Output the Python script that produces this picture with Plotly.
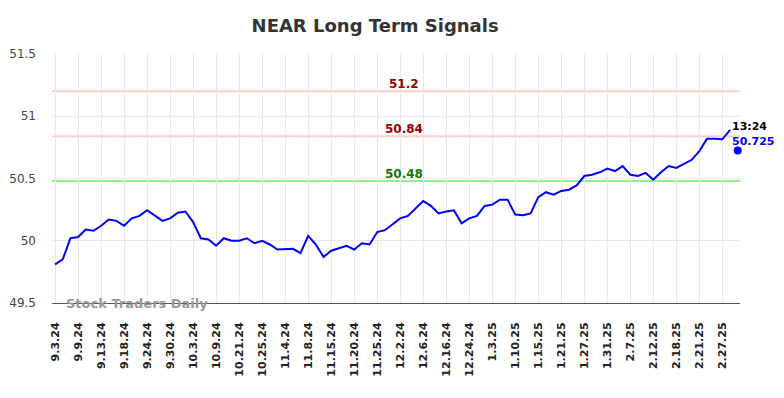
import plotly.graph_objects as go

title = "NEAR Long Term Signals"
values = [49.81, 49.85, 50.02, 50.03, 50.09, 50.08, 50.12, 50.17, 50.16, 50.12,
          50.18, 50.20, 50.245, 50.20, 50.16, 50.18, 50.225, 50.235, 50.15, 50.02,
          50.01, 49.96, 50.02, 50.00, 50.00, 50.02, 49.98, 50.00, 49.97, 49.93,
          49.93, 49.935, 49.90, 50.04, 49.97, 49.87, 49.92, 49.94, 49.96, 49.93,
          49.98, 49.97, 50.07, 50.085, 50.13, 50.18, 50.20, 50.26, 50.32, 50.28,
          50.22, 50.235, 50.245, 50.14, 50.18, 50.20, 50.28, 50.29, 50.33, 50.33,
          50.21, 50.205, 50.22, 50.35, 50.39, 50.37, 50.40, 50.41, 50.445, 50.52,
          50.53, 50.55, 50.58, 50.56, 50.60, 50.53, 50.52, 50.545, 50.49, 50.55,
          50.60, 50.585, 50.62, 50.65, 50.72, 50.82, 50.82, 50.815, 50.89]
tick_labels = ["9.3.24", "9.9.24", "9.13.24", "9.18.24", "9.24.24", "9.30.24", "10.3.24",
               "10.9.24", "10.21.24", "10.25.24", "11.4.24", "11.8.24", "11.15.24",
               "11.20.24", "11.25.24", "12.2.24", "12.6.24", "12.16.24", "12.24.24",
               "1.3.25", "1.10.25", "1.15.25", "1.21.25", "1.27.25", "1.31.25", "2.7.25",
               "2.12.25", "2.18.25", "2.21.25", "2.27.25"]
tick_step = 3
last_price = 50.725
last_time = "13:24"
signal_levels = [51.2, 50.84, 50.48]
signal_labels = ["51.2", "50.84", "50.48"]
signal_line_colors = ["#ffcccc", "#ffcccc", "#90ee90"]
signal_text_colors = ["#990000", "#990000", "#117711"]

x = list(range(len(values)))
last_x = len(values)

fig = go.Figure()
fig.add_trace(go.Scatter(x=x, y=values, mode="lines",
                         line=dict(color="#0000ff", width=2), showlegend=False,
                         hoverinfo="skip"))
fig.add_trace(go.Scatter(x=[last_x], y=[last_price], mode="markers",
                         marker=dict(color="#0000ff", size=8), showlegend=False,
                         cliponaxis=False))

for lvl, lab, lc, tc in zip(signal_levels, signal_labels, signal_line_colors, signal_text_colors):
    fig.add_shape(type="line", xref="paper", x0=0, x1=1, yref="y", y0=lvl, y1=lvl,
                  line=dict(color=lc, width=2), layer="below")
    fig.add_annotation(x=45.5, y=lvl, xref="x", yref="y", text=lab, showarrow=False,
                       yshift=7, font=dict(family="DejaVu Sans", size=12, color=tc, weight="bold"))

fig.add_annotation(x=last_x, y=last_price, text=last_time, showarrow=False,
                   xanchor="left", xshift=-8, yshift=24,
                   font=dict(family="DejaVu Sans", size=11, color="#000000", weight="bold"))
fig.add_annotation(x=last_x, y=last_price, text=f"{last_price}", showarrow=False,
                   xanchor="left", xshift=-8, yshift=9,
                   font=dict(family="DejaVu Sans", size=11, color="#0000ff", weight="bold"))
fig.add_annotation(x=0.0, y=49.5, xref="paper", yref="y", text="Stock Traders Daily",
                   showarrow=False, xanchor="left", xshift=12, yshift=0,
                   font=dict(family="DejaVu Sans", size=13, color="#999999", weight="bold"))

fig.update_layout(
    width=768, height=382,
    margin=dict(l=44, r=36, t=46, b=87, autoexpand=False),
    paper_bgcolor="white", plot_bgcolor="white",
    title=dict(text=title, x=0.478, xanchor="center", y=0.953, yanchor="middle",
               font=dict(family="DejaVu Sans", size=18, color="#333333", weight="bold")),
    xaxis=dict(range=[-0.4, last_x + 0.3], tickmode="array", automargin=False,
               tickvals=x[::tick_step], ticktext=tick_labels, tickangle=-90,
               showgrid=True, gridcolor="#e8e8e8", gridwidth=1, zeroline=False,
               showline=True, linecolor="#555555", linewidth=1,
               tickfont=dict(family="DejaVu Sans", size=11, color="#222222", weight="bold"),
               ticks="", ticklabelstandoff=14),
    yaxis=dict(range=[49.5, 51.5], tickvals=[49.5, 50, 50.5, 51, 51.5], automargin=False,
               ticktext=["49.5", "50", "50.5", "51", "51.5"],
               showgrid=True, gridcolor="#e8e8e8", gridwidth=1, zeroline=False,
               tickfont=dict(family="DejaVu Sans", size=12, color="#444444"),
               ticks="", ticklabelstandoff=15),
)

fig.write_html("out.html")
